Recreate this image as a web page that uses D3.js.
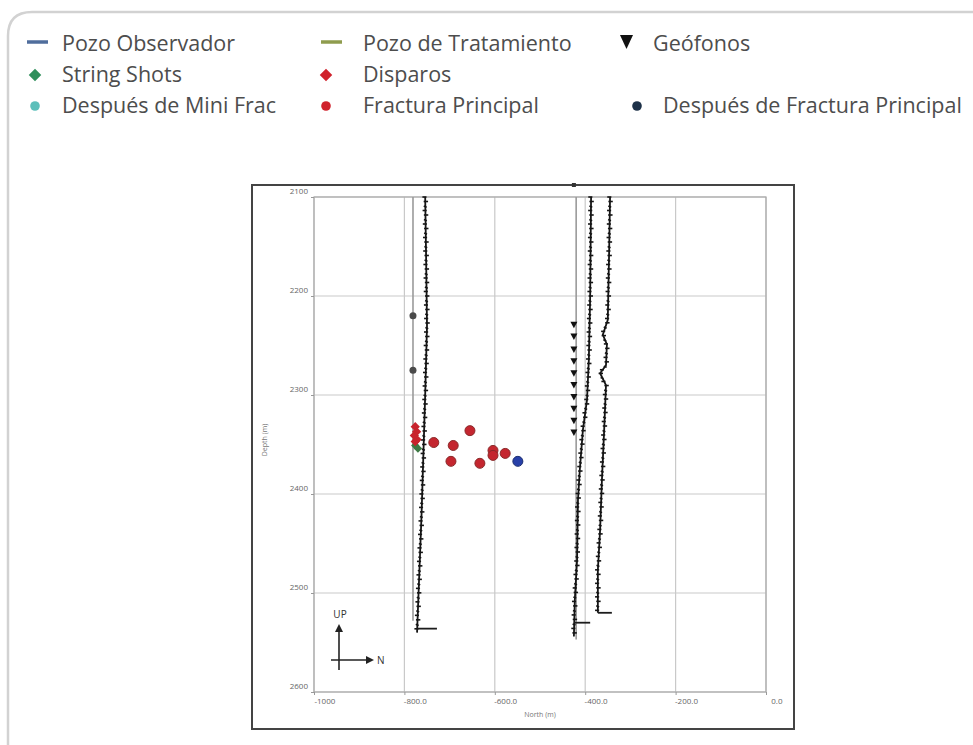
<!DOCTYPE html>
<html>
<head>
<meta charset="utf-8">
<script src="https://cdn.jsdelivr.net/npm/d3@7"></script>
<style>
  body { margin: 0; background: #fff; }
  svg { display: block; font-family: "Open Sans", sans-serif; }
</style>
</head>
<body>
<svg width="973" height="745"></svg>
<script>
// depth ticks (m) and north ticks (m)
const yTicks = [2100, 2200, 2300, 2400, 2500, 2600];
const xTicks = [-1000, -800, -600, -400, -200, 0];
const xTickLabels = ["-1000", "-800.0", "-600.0", "-400.0", "-200.0", "0.0"];

// wells: [north, depth]
const obsWellLeft = [[-781, 2100], [-781, 2528]];
const obsWellRight = [[-420, 2100], [-420, 2547]];
const treatLeft = [[-754, 2100], [-752, 2160], [-750, 2230], [-754, 2300], [-758, 2360], [-762, 2420], [-767, 2480], [-772, 2540]];
const treatLeftFoot = [[-772, 2536], [-728, 2536]];
const treatRight1 = [[-387, 2100], [-389, 2200], [-392, 2265], [-396, 2305], [-405, 2335], [-412, 2376], [-416, 2406], [-418, 2467], [-423, 2507], [-425, 2544]];
const treatRight1Foot = [[-425, 2530], [-389, 2530]];
const treatRight2 = [[-345, 2100], [-347, 2154], [-350, 2224], [-361, 2239], [-352, 2249], [-354, 2270], [-367, 2278], [-354, 2290], [-358, 2335], [-363, 2386], [-367, 2436], [-372, 2477], [-372, 2520]];
const treatRight2Foot = [[-372, 2520], [-341, 2520]];

// events
const stringShots = [[-781, 2220], [-781, 2275]];
const disparos = [[-776, 2332], [-773, 2337], [-778, 2341], [-772, 2345], [-776, 2347]];
const disparosGreen = [[-776, 2351], [-770, 2354]];
const fracturaPrincipal = [[-735, 2348], [-692, 2351], [-655, 2336], [-697, 2367], [-633, 2369], [-604, 2356], [-604, 2361], [-577, 2359]];
const despuesFractura = [[-549, 2367]];
const geofonos = [[-425, 2229], [-425, 2241], [-425, 2254], [-425, 2266], [-425, 2278], [-425, 2290], [-425, 2302], [-425, 2314], [-425, 2326], [-425, 2338]];

// legend
const legendLabels = ["Pozo Observador", "String Shots", "Después de Mini Frac", "Pozo de Tratamiento", "Disparos", "Fractura Principal", "Geófonos", "", "Después de Fractura Principal"];
const legendKinds = ["line", "diamond", "dot", "line", "diamond", "dot", "triangle", "none", "dot"];
const legendColors = ["#4f6d9c", "#2f8f5b", "#5cbfba", "#8f9c4e", "#d0222c", "#d0222c", "#111", "", "#1d3148"];

const svg = d3.select("svg");

// card border
svg.append("path")
  .attr("d", "M8,760 L8,36 Q8,12 32,12 L990,12")
  .attr("fill", "none").attr("stroke", "#d2d2d2").attr("stroke-width", 2.5);

// legend
const symX = [[27, 28, 28], [321, 319, 319], [620, 0, 630]];
const textX = [[62, 62, 62], [363, 363, 363], [653, 0, 663]];
const rowY = [44, 75, 106];
legendLabels.forEach((lab, i) => {
  const c = Math.floor(i / 3), r = i % 3;
  const kind = legendKinds[i];
  if (kind === "none") return;
  const g = svg.append("g").attr("transform", `translate(${symX[c][r]},${rowY[r]})`);
  const col = legendColors[i];
  if (kind === "line") {
    g.append("line").attr("x1", 0).attr("x2", 21).attr("y1", -2).attr("y2", -2)
      .attr("stroke", col).attr("stroke-width", 3.5);
  } else if (kind === "diamond") {
    g.append("path").attr("d", d3.symbol(d3.symbolDiamond2, 100)()).attr("transform", "translate(7,0)").attr("fill", col);
  } else if (kind === "dot") {
    g.append("circle").attr("cx", 7).attr("cy", 0).attr("r", 4.8).attr("fill", col);
  } else if (kind === "triangle") {
    g.append("path").attr("d", "M0,-9 L13,-9 L6.5,5 Z").attr("fill", col);
  }
  svg.append("text").attr("x", textX[c][r]).attr("y", rowY[r] + 7)
    .attr("font-size", 21.5).attr("fill", "#4d4d4d").text(lab);
});

// chart frame
svg.append("rect").attr("x", 252).attr("y", 185).attr("width", 542).attr("height", 544)
  .attr("fill", "#fff").attr("stroke", "#444").attr("stroke-width", 2);

const x = d3.scaleLinear().domain([-1000, 0]).range([314, 766]);
const y = d3.scaleLinear().domain([2100, 2600]).range([197, 692]);

// grid
const grid = svg.append("g");
grid.selectAll(".gx").data(xTicks).join("line")
  .attr("x1", d => x(d)).attr("x2", d => x(d)).attr("y1", y(2100)).attr("y2", y(2600))
  .attr("stroke", "#c9c9c9").attr("stroke-width", 1.2);
grid.selectAll(".gy").data(yTicks).join("line")
  .attr("x1", x(-1000)).attr("x2", x(0)).attr("y1", d => y(d)).attr("y2", d => y(d))
  .attr("stroke", "#c9c9c9").attr("stroke-width", 1.2);
svg.append("rect").attr("x", x(-1000)).attr("y", y(2100)).attr("width", x(0) - x(-1000)).attr("height", y(2600) - y(2100))
  .attr("fill", "none").attr("stroke", "#aaa").attr("stroke-width", 1.2);

// axes
const yAxis = svg.append("g").attr("transform", `translate(${x(-1000)},0)`)
  .call(d3.axisLeft(y).tickValues(yTicks).tickSize(3).tickFormat(d3.format("d")));
yAxis.selectAll("text").attr("dy", "-0.4em");
const xAxis = svg.append("g").attr("transform", `translate(0,${y(2600)})`)
  .call(d3.axisBottom(x).tickValues(xTicks).tickSize(3).tickFormat((d, i) => xTickLabels[i]));
xAxis.selectAll("text").attr("dx", "1.3em");
[yAxis, xAxis].forEach(a => {
  a.select(".domain").remove();
  a.selectAll("line").attr("stroke", "#999");
  a.selectAll("text").attr("font-size", 8).attr("fill", "#666").attr("font-family", "Open Sans, sans-serif");
});
svg.append("text").attr("transform", "translate(267,440) rotate(-90)")
  .attr("text-anchor", "middle").attr("font-size", 7).attr("fill", "#777").text("Depth (m)");
svg.append("text").attr("x", 540).attr("y", 717)
  .attr("text-anchor", "middle").attr("font-size", 7).attr("fill", "#777").text("North (m)");

const line = d3.line().x(d => x(d[0])).y(d => y(d[1]));

// observation wells (gray)
[obsWellLeft, obsWellRight].forEach(w => {
  svg.append("path").attr("d", line(w)).attr("fill", "none")
    .attr("stroke", "#9a9a9a").attr("stroke-width", 1.6);
});

// treatment wells, with short sensor ticks along the trace
function trace(pts) {
  const p = svg.append("path").attr("d", line(pts)).attr("fill", "none")
    .attr("stroke", "#151515").attr("stroke-width", 1.8);
  const node = p.node();
  const len = node.getTotalLength();
  const ticks = [];
  for (let s = 0, k = 0; s < len; s += 4.5, k++) {
    const pt = node.getPointAtLength(s);
    ticks.push([pt.x, pt.y, k % 3]);
  }
  svg.append("g").selectAll("line").data(ticks).join("line")
    .attr("x1", d => d[0] - (d[2] === 0 ? 2.8 : 1.6))
    .attr("x2", d => d[0] + (d[2] === 1 ? 2.8 : 1.3))
    .attr("y1", d => d[1]).attr("y2", d => d[1] + (d[2] === 2 ? 1.2 : 0))
    .attr("stroke", "#151515").attr("stroke-width", 1.6);
}
[treatLeft, treatRight1, treatRight2].forEach(trace);
[treatLeftFoot, treatRight1Foot, treatRight2Foot].forEach(w => {
  svg.append("path").attr("d", line(w)).attr("fill", "none")
    .attr("stroke", "#1c1c1c").attr("stroke-width", 1.8);
});

// string shots on the observation well
svg.append("g").selectAll("circle").data(stringShots).join("circle")
  .attr("cx", d => x(d[0])).attr("cy", d => y(d[1])).attr("r", 3.5).attr("fill", "#4a4a4a");

// geophones
svg.append("g").selectAll("path").data(geofonos).join("path")
  .attr("transform", d => `translate(${x(d[0])},${y(d[1])})`)
  .attr("d", "M-3.5,-3 L3.5,-3 L0,3.5 Z").attr("fill", "#111");
svg.append("rect").attr("x", x(-425) - 2).attr("y", 183).attr("width", 4).attr("height", 4).attr("fill", "#333");

// perforations
svg.append("g").selectAll("path").data(disparosGreen).join("path")
  .attr("transform", d => `translate(${x(d[0])},${y(d[1])})`)
  .attr("d", d3.symbol(d3.symbolDiamond2, 45)()).attr("fill", "#3d7a45");
svg.append("g").selectAll("path").data(disparos).join("path")
  .attr("transform", d => `translate(${x(d[0])},${y(d[1])})`)
  .attr("d", d3.symbol(d3.symbolDiamond2, 55)()).attr("fill", "#c8232c");

// microseismic events
svg.append("g").selectAll("circle").data(fracturaPrincipal).join("circle")
  .attr("cx", d => x(d[0])).attr("cy", d => y(d[1])).attr("r", 5)
  .attr("fill", "#c4262f").attr("stroke", "#8a2a2a").attr("stroke-width", 1);
svg.append("g").selectAll("circle").data(despuesFractura).join("circle")
  .attr("cx", d => x(d[0])).attr("cy", d => y(d[1])).attr("r", 5)
  .attr("fill", "#2840a8").attr("stroke", "#1d2f70").attr("stroke-width", 1);

// orientation arrows
const arr = svg.append("g").attr("stroke", "#222").attr("stroke-width", 1.6).attr("fill", "#222");
arr.append("line").attr("x1", 339).attr("y1", 670).attr("x2", 339).attr("y2", 630);
arr.append("path").attr("d", "M335,632 L339,624 L343,632 Z").attr("stroke", "none");
arr.append("line").attr("x1", 331).attr("y1", 660).attr("x2", 368).attr("y2", 660);
arr.append("path").attr("d", "M366,656 L374,660 L366,664 Z").attr("stroke", "none");
svg.append("text").attr("x", 340).attr("y", 618).attr("text-anchor", "middle")
  .attr("font-size", 10).attr("fill", "#333").text("UP");
svg.append("text").attr("x", 377).attr("y", 664)
  .attr("font-size", 10).attr("fill", "#333").text("N");
</script>
</body>
</html>
